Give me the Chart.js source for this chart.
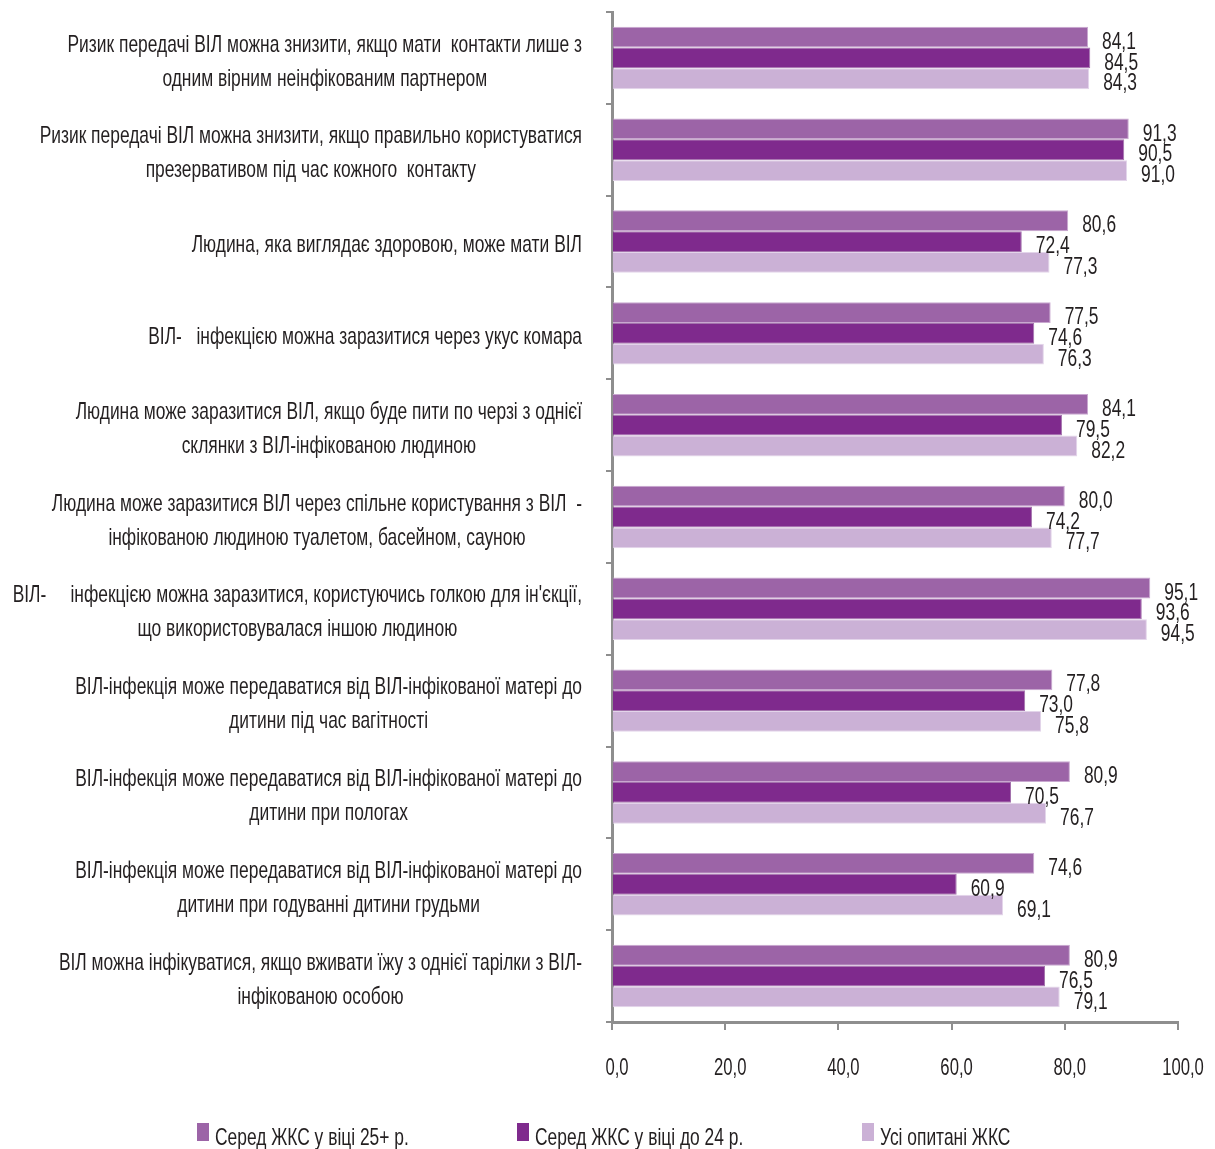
<!DOCTYPE html>
<html lang="uk">
<head>
<meta charset="utf-8">
<script src="https://cdn.jsdelivr.net/npm/chart.js@4/dist/chart.umd.min.js"></script>
<style>
  html, body { margin: 0; padding: 0; background: #fff; overflow: hidden; }
  canvas { display: block; }
</style>
</head>
<body>
<canvas id="chart" width="1215" height="1149"></canvas>
<script>
// Statements about HIV transmission (each entry holds the label lines)
const categories = [
  ["Ризик передачі ВІЛ можна знизити, якщо мати  контакти лише з", "одним вірним неінфікованим партнером"],
  ["Ризик передачі ВІЛ можна знизити, якщо правильно користуватися", "презервативом під час кожного  контакту"],
  ["Людина, яка виглядає здоровою, може мати ВІЛ"],
  ["ВІЛ-   інфекцією можна заразитися через укус комара"],
  ["Людина може заразитися ВІЛ, якщо буде пити по черзі з однієї", "склянки з ВІЛ-інфікованою людиною"],
  ["Людина може заразитися ВІЛ через спільне користування з ВІЛ  -", "інфікованою людиною туалетом, басейном, сауною"],
  ["ВІЛ-     інфекцією можна заразитися, користуючись голкою для ін'єкції,", "що використовувалася іншою людиною"],
  ["ВІЛ-інфекція може передаватися від ВІЛ-інфікованої матері до", "дитини під час вагітності"],
  ["ВІЛ-інфекція може передаватися від ВІЛ-інфікованої матері до", "дитини при пологах"],
  ["ВІЛ-інфекція може передаватися від ВІЛ-інфікованої матері до", "дитини при годуванні дитини грудьми"],
  ["ВІЛ можна інфікуватися, якщо вживати їжу з однієї тарілки з ВІЛ-", "інфікованою особою"]
];

const seriesNames = ["Серед ЖКС у віці 25+ р.", "Серед ЖКС у віці до 24 р.", "Усі опитані ЖКС"];

const age25plus = [84.1, 91.3, 80.6, 77.5, 84.1, 80.0, 95.1, 77.8, 80.9, 74.6, 80.9];
const ageUpTo24 = [84.5, 90.5, 72.4, 74.6, 79.5, 74.2, 93.6, 73.0, 70.5, 60.9, 76.5];
const allRespondents = [84.3, 91.0, 77.3, 76.3, 82.2, 77.7, 94.5, 75.8, 76.7, 69.1, 79.1];

const xTicks = [0, 20, 40, 60, 80, 100];

const FONT = '"Liberation Sans", Arial, sans-serif';
const TEXT = '#231f20';
const AXIS = '#8e8e8e';
const fmt = v => v.toFixed(1).replace('.', ',');

// Narrow type: regular sans squeezed horizontally
const SQUEEZE = 0.725;
function narrowWidth(ctx, text, size) {
  ctx.font = size + 'px ' + FONT;
  return ctx.measureText(text).width * SQUEEZE;
}
function narrowText(ctx, text, x, y, size, align) {
  ctx.save();
  ctx.font = size + 'px ' + FONT;
  ctx.textAlign = align;
  ctx.textBaseline = 'middle';
  ctx.fillStyle = TEXT;
  ctx.translate(x, y);
  ctx.scale(SQUEEZE, 1);
  ctx.fillText(text, 0, 0);
  ctx.restore();
}

// Category labels: right-aligned block, lines centred within the block
const categoryLabels = {
  id: 'categoryLabels',
  afterDraw(chart) {
    const ctx = chart.ctx;
    const y = chart.scales.y;
    const right = 582, size = 24, gap = 34;
    categories.forEach((lines, i) => {
      const cy = y.getPixelForValue(i) + 4;
      const maxW = Math.max(...lines.map(l => narrowWidth(ctx, l, size)));
      const cx = right - maxW / 2;
      const top = cy - (lines.length - 1) * gap / 2;
      lines.forEach((l, k) => narrowText(ctx, l, cx, top + k * gap, size, 'center'));
    });
  }
};

// Value labels placed just past the end of each bar
const valueLabels = {
  id: 'valueLabels',
  afterDatasetsDraw(chart) {
    const ctx = chart.ctx;
    chart.data.datasets.forEach((ds, di) => {
      chart.getDatasetMeta(di).data.forEach((bar, i) => {
        narrowText(ctx, fmt(ds.data[i]), bar.x + 14, bar.y + 5, 24, 'left');
      });
    });
  }
};

// Value axis labels under the tick marks
const xTickLabels = {
  id: 'xTickLabels',
  afterDraw(chart) {
    const ctx = chart.ctx;
    const x = chart.scales.x;
    xTicks.forEach(v => narrowText(ctx, fmt(v), x.getPixelForValue(v) + 5, 1069, 23, 'center'));
  }
};

// Legend row along the bottom edge
const bottomLegend = {
  id: 'bottomLegend',
  afterDraw(chart) {
    const ctx = chart.ctx;
    const starts = [197, 517, 862];
    chart.data.datasets.forEach((ds, i) => {
      const x = starts[i];
      ctx.fillStyle = ds.backgroundColor;
      ctx.fillRect(x, 1123, 12, 18);
      narrowText(ctx, ds.label, x + 18, 1138, 24, 'left');
    });
  }
};

new Chart(document.getElementById('chart'), {
  type: 'bar',
  data: {
    labels: categories.map(c => c.join(' ')),
    datasets: [
      { label: seriesNames[0], data: age25plus, backgroundColor: '#9c64a7', borderColor: '#c9a8d0', borderWidth: 1 },
      { label: seriesNames[1], data: ageUpTo24, backgroundColor: '#7f2a8d', borderColor: '#a473ad', borderWidth: 1 },
      { label: seriesNames[2], data: allRespondents, backgroundColor: '#cbb1d6', borderColor: '#e3d5ea', borderWidth: 1 }
    ]
  },
  options: {
    indexAxis: 'y',
    responsive: false,
    animation: false,
    devicePixelRatio: 1,
    layout: { padding: { top: 12, right: 37, bottom: 67, left: 0 } },
    datasets: { bar: { categoryPercentage: 0.68, barPercentage: 1.0 } },
    plugins: { legend: { display: false }, tooltip: { enabled: false } },
    scales: {
      x: {
        min: 0, max: 100,
        afterBuildTicks: s => { s.ticks = xTicks.map(v => ({ value: v })); },
        afterFit: s => { s.height = 60; },
        ticks: { display: false },
        grid: { drawOnChartArea: false, drawTicks: true, tickLength: 8, color: AXIS, lineWidth: 2 },
        border: { display: true, color: AXIS, width: 3 }
      },
      y: {
        afterFit: s => { s.width = 612; },
        ticks: { display: false },
        grid: { offset: true, drawOnChartArea: false, drawTicks: true, tickLength: 6, color: AXIS, lineWidth: 2 },
        border: { display: true, color: AXIS, width: 3 }
      }
    }
  },
  plugins: [categoryLabels, valueLabels, xTickLabels, bottomLegend]
});
</script>
</body>
</html>
